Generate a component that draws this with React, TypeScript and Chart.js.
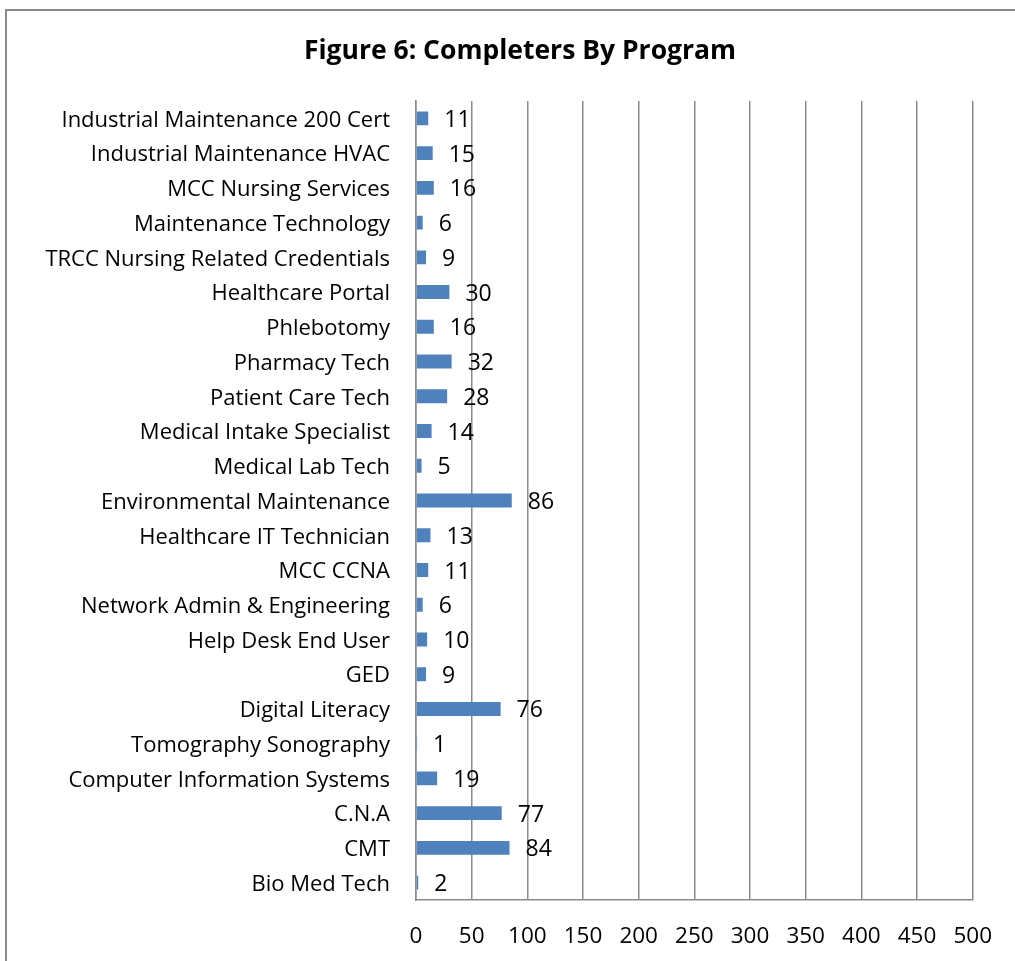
import React, { useEffect, useRef } from "react";
import { Chart, registerables } from "chart.js";
Chart.register(...registerables);

const titleText = "Figure 6: Completers By Program";
const categories = [
  "Industrial Maintenance 200 Cert",
  "Industrial Maintenance HVAC",
  "MCC Nursing Services",
  "Maintenance Technology",
  "TRCC Nursing Related Credentials",
  "Healthcare Portal",
  "Phlebotomy",
  "Pharmacy Tech",
  "Patient Care Tech",
  "Medical Intake Specialist",
  "Medical Lab Tech",
  "Environmental Maintenance",
  "Healthcare IT Technician",
  "MCC CCNA",
  "Network Admin & Engineering",
  "Help Desk End User",
  "GED",
  "Digital Literacy",
  "Tomography Sonography",
  "Computer Information Systems",
  "C.N.A",
  "CMT",
  "Bio Med Tech",
];
const completers = [11, 15, 16, 6, 9, 30, 16, 32, 28, 14, 5, 86, 13, 11, 6, 10, 9, 76, 1, 19, 77, 84, 2];
const xMin = 0;
const xMax = 500;
const xStep = 50;

const FONT = "'Open Sans', sans-serif";

const framePlugin = {
  id: "frameAndTitle",
  beforeDraw(chart: any) {
    const ctx = chart.ctx;
    ctx.save();
    ctx.fillStyle = "#ffffff";
    ctx.fillRect(0, 0, chart.width, chart.height);
    ctx.strokeStyle = "#8a8a8a";
    ctx.lineWidth = 2;
    ctx.strokeRect(6, 10, chart.width + 20, chart.height + 20);
    ctx.fillStyle = "#000000";
    ctx.font = `bold 26.5px ${FONT}`;
    ctx.textAlign = "center";
    ctx.textBaseline = "middle";
    ctx.fillText(titleText, 520, 51);
    ctx.restore();
  },
  afterDatasetsDraw(chart: any) {
    const ctx = chart.ctx;
    const meta = chart.getDatasetMeta(0);
    ctx.save();
    ctx.fillStyle = "#000000";
    ctx.font = `23px ${FONT}`;
    ctx.textAlign = "left";
    ctx.textBaseline = "middle";
    meta.data.forEach((bar: any, i: number) => {
      ctx.fillText(String(completers[i]), bar.x + 16, bar.y + 2);
    });
    ctx.restore();
  },
};

export default function App() {
  const ref = useRef<HTMLCanvasElement>(null);
  useEffect(() => {
    if (!ref.current) return;
    const chart = new Chart(ref.current, {
      type: "bar",
      data: {
        labels: categories,
        datasets: [
          {
            data: completers,
            backgroundColor: "#4F81BD",
            borderWidth: 0,
            categoryPercentage: 1,
            barPercentage: 0.4,
          },
        ],
      },
      options: {
        indexAxis: "y",
        animation: false,
        responsive: false,
        maintainAspectRatio: false,
        layout: { padding: { top: 101, right: 42, left: 0, bottom: 0 } },
        plugins: { legend: { display: false }, tooltip: { enabled: false }, title: { display: false } },
        scales: {
          x: {
            min: xMin,
            max: xMax,
            ticks: { stepSize: xStep, color: "#000", font: { family: FONT, size: 22.5 }, padding: 23 },
            grid: { color: "#8a8a8a", lineWidth: 1.5, drawTicks: false },
            border: { color: "#8a8a8a", width: 1.5 },
            afterFit: (s: any) => { s.height = 61; },
          },
          y: {
            ticks: { color: "#000", font: { family: FONT, size: 22 }, padding: 26, autoSkip: false, labelOffset: 2 },
            grid: { display: false, drawTicks: false },
            border: { display: true, color: "#8a8a8a", width: 1.5 },
            afterFit: (s: any) => { s.width = 416; },
          },
        },
      },
      plugins: [framePlugin],
    });
    return () => chart.destroy();
  }, []);
  return (
    <div style={{ position: "fixed", left: 0, top: 0, width: 1015, height: 961 }}>
      <canvas ref={ref} width={1015} height={961} style={{ width: 1015, height: 961 }} />
    </div>
  );
}
